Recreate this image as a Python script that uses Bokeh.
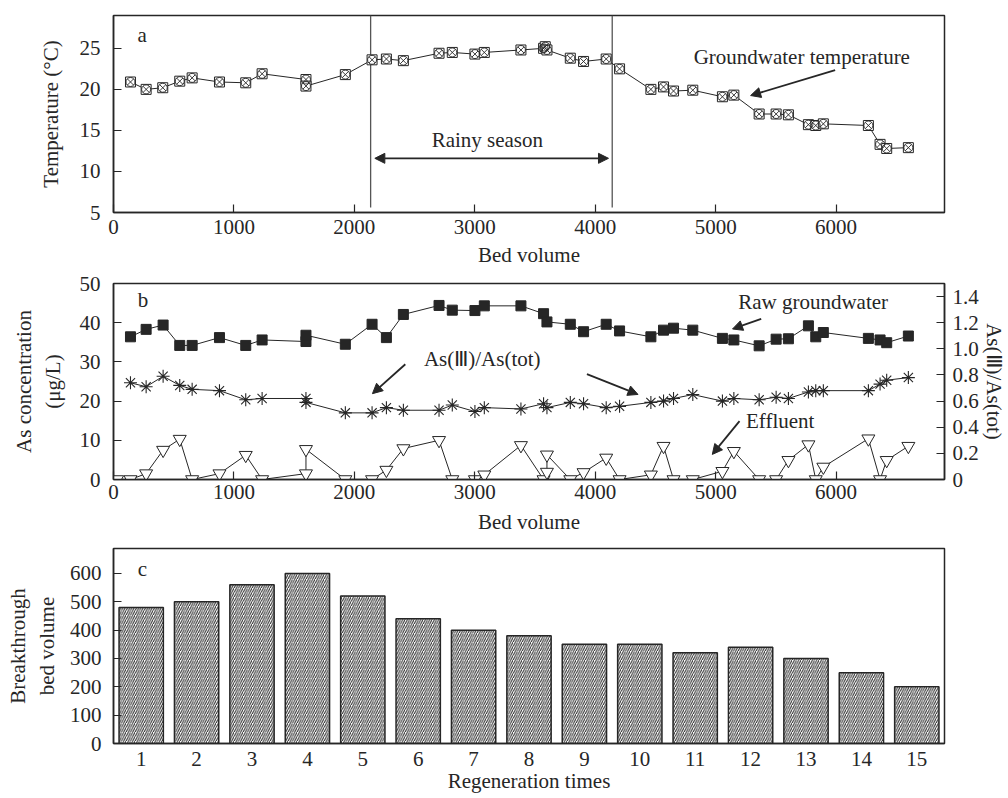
from bokeh.plotting import figure
from bokeh.layouts import column
from bokeh.models import (Range1d, LinearAxis, Label, Arrow, NormalHead,
                          FixedTicker, CustomJSTickFormatter)
from bokeh.embed import file_html
from bokeh.resources import INLINE

# ---------------- data ----------------
# (a) groundwater temperature
temp_bv = [141, 271, 409, 550, 653, 880, 1098, 1234, 1598, 1598, 1925, 2147, 2266, 2407,
           2703, 2813, 3001, 3079, 3383, 3571, 3585, 3599, 3793, 3903, 4091, 4202, 4462,
           4567, 4650, 4810, 5056, 5151, 5361, 5502, 5604, 5770, 5831, 5894, 6268, 6365,
           6420, 6600]
temp_c = [20.9, 20.0, 20.2, 21.0, 21.4, 20.9, 20.8, 21.9, 21.2, 20.4, 21.8, 23.6, 23.7, 23.5,
          24.4, 24.5, 24.3, 24.5, 24.8, 25.0, 25.2, 24.8, 23.8, 23.4, 23.7, 22.5, 20.0,
          20.3, 19.8, 19.9, 19.1, 19.3, 17.0, 17.0, 16.9, 15.7, 15.6, 15.8, 15.6, 13.3,
          12.8, 12.9]
rainy_start = 2135
rainy_end = 4141

# (b) arsenic
as_bv = [141, 271, 412, 550, 653, 880, 1098, 1234, 1598, 1598, 1925, 2147, 2266, 2407,
         2703, 2813, 3001, 3079, 3383, 3571, 3599, 3793, 3903, 4091, 4202, 4462, 4567,
         4650, 4810, 5056, 5151, 5361, 5502, 5604, 5770, 5831, 5894, 6268, 6365, 6420, 6600]
raw_as = [36.4, 38.3, 39.4, 34.2, 34.2, 36.2, 34.2, 35.6, 35.2, 36.8, 34.5, 39.6, 36.2, 42.1,
          44.4, 43.2, 43.1, 44.3, 44.3, 42.3, 40.2, 39.6, 37.7, 39.6, 37.9, 36.4, 38.1,
          38.6, 38.1, 36.0, 35.6, 34.1, 35.8, 35.9, 39.2, 36.4, 37.5, 36.0, 35.6, 34.9, 36.6]
as3_ratio = [0.74, 0.71, 0.79, 0.72, 0.69, 0.68, 0.61, 0.62, 0.62, 0.59, 0.51, 0.51, 0.55, 0.53,
             0.53, 0.57, 0.52, 0.55, 0.54, 0.58, 0.55, 0.59, 0.58, 0.55, 0.56, 0.59, 0.60,
             0.62, 0.65, 0.60, 0.62, 0.61, 0.63, 0.62, 0.67, 0.68, 0.68, 0.68, 0.73, 0.76, 0.78]
eff_bv = [30, 141, 271, 412, 550, 653, 880, 1098, 1234, 1598, 1598, 1925, 2147, 2266, 2407,
          2703, 2813, 3001, 3079, 3383, 3571, 3599, 3599, 3793, 3903, 4091, 4202, 4462, 4567,
          4650, 4810, 5056, 5151, 5361, 5502, 5604, 5770, 5831, 5894, 6268, 6365, 6420, 6600]
eff_as = [0, 0, 1.5, 7.5, 10.3, 0, 1.5, 6.2, 0, 1.5, 7.7, 0, 0, 2.4, 7.9,
          10.0, 0, 0, 1.2, 8.7, 0, 1.9, 6.3, 0, 1.8, 5.5, 0, 1.2, 8.5,
          0, 0, 2.1, 7.2, 0, 0, 4.9, 8.9, 0, 3.2, 10.4, 0, 4.9, 8.5]

# (c) breakthrough bed volume per regeneration
regen = list(range(1, 16))
breakthrough = [480, 500, 560, 600, 520, 440, 400, 380, 350, 350, 320, 340, 300, 250, 200]

bv_ticks = [0, 1000, 2000, 3000, 4000, 5000, 6000]
temp_ticks = [5, 10, 15, 20, 25]
as_ticks = [0, 10, 20, 30, 40, 50]
ratio_ticks = [0, 0.2, 0.4, 0.6, 0.8, 1.0, 1.2, 1.4]
bt_ticks = [0, 100, 200, 300, 400, 500, 600]

# ---------------- style ----------------
FONT = "Liberation Serif"
FS = "21px"
INK = "#262626"
W = 1008
LB = 113
RB = 63


def base(height, top, bottom, xr, yr):
    p = figure(width=W, height=height, x_range=xr, y_range=yr,
               output_backend="svg", toolbar_location=None,
               min_border_left=LB, min_border_right=RB,
               min_border_top=top, min_border_bottom=bottom)
    p.xgrid.visible = False
    p.ygrid.visible = False
    p.outline_line_color = INK
    p.outline_line_width = 1.5
    p.outline_line_alpha = 1
    p.background_fill_color = "white"
    p.border_fill_color = "white"
    return p


def style_axis(ax, text=None, tick_in=8, s1=6, s2=6):
    ax.axis_line_color = INK
    ax.axis_line_width = 1.5
    ax.major_tick_in = tick_in
    ax.major_tick_out = 0
    ax.major_tick_line_color = INK
    ax.major_tick_line_width = 1.2
    ax.minor_tick_line_color = None
    ax.major_label_text_font = FONT
    ax.major_label_text_font_size = FS
    ax.major_label_text_color = INK
    ax.major_label_standoff = s1
    ax.axis_label = text
    ax.axis_label_text_font = FONT
    ax.axis_label_text_font_size = FS
    ax.axis_label_text_font_style = "normal"
    ax.axis_label_text_color = INK
    ax.axis_label_standoff = s2


def label(p, x, y, text, **kw):
    p.add_layout(Label(x=x, y=y, text=text, text_font=FONT, text_font_size=FS,
                       text_color=INK, text_align="center", text_baseline="middle", **kw))


def arrow(p, x0, y0, x1, y1, both=False):
    head = lambda: NormalHead(size=10, fill_color=INK, line_color=INK, line_width=1)
    p.add_layout(Arrow(x_start=x0, y_start=y0, x_end=x1, y_end=y1,
                       end=head(), start=head() if both else None,
                       line_color=INK, line_width=1.8))


# ---------------- panel a ----------------
pa = base(271, 15, 59, Range1d(0, 6900), Range1d(5, 29))
style_axis(pa.xaxis[0], "Bed volume", s1=7, s2=6)
style_axis(pa.yaxis[0], "Temperature (°C)", s1=13, s2=14)
pa.xaxis[0].ticker = FixedTicker(ticks=bv_ticks)
pa.yaxis[0].ticker = FixedTicker(ticks=temp_ticks)

pa.segment(x0=[rainy_start, rainy_end], y0=[5.6, 5.6], x1=[rainy_start, rainy_end],
           y1=[29, 29], line_color="#555555", line_width=1.3)
pa.line(temp_bv, temp_c, line_color=INK, line_width=1)
pa.scatter(temp_bv, temp_c, marker="square", size=10, fill_color="white",
           line_color=INK, line_width=1)
pa.scatter(temp_bv, temp_c, marker="circle_x", size=9, fill_color=None,
           line_color=INK, line_width=0.9)

label(pa, 238, 26.6, "a")
label(pa, 3104, 13.8, "Rainy season")
arrow(pa, 2170, 11.6, 4110, 11.6, both=True)
label(pa, 5715, 23.9, "Groundwater temperature")
arrow(pa, 5992, 22.35, 5290, 19.25)

# ---------------- panel b ----------------
pb = base(272, 12, 64, Range1d(0, 6900), Range1d(0, 50))
pb.extra_y_ranges = {"ratio": Range1d(0, 1.5)}
style_axis(pb.xaxis[0], "Bed volume", s1=5, s2=8)
style_axis(pb.yaxis[0], "As concentration\n(μg/L)", s1=13, s2=12)
pb.xaxis[0].ticker = FixedTicker(ticks=bv_ticks)
pb.yaxis[0].ticker = FixedTicker(ticks=as_ticks)
rax = LinearAxis(y_range_name="ratio")
style_axis(rax, "As(Ⅲ)/As(tot)", s1=8, s2=0)
rax.ticker = FixedTicker(ticks=ratio_ticks)
rax.formatter = CustomJSTickFormatter(code="return tick == 0 ? '0' : tick.toFixed(1);")
pb.add_layout(rax, "right")

pb.line(as_bv, raw_as, line_color=INK, line_width=1)
pb.scatter(as_bv, raw_as, marker="square", size=10, fill_color=INK, line_color=INK)
pb.line(as_bv, as3_ratio, y_range_name="ratio", line_color=INK, line_width=1)
pb.scatter(as_bv, as3_ratio, y_range_name="ratio", marker="asterisk", size=13,
           line_color=INK, line_width=1.1)
pb.line(eff_bv, eff_as, line_color=INK, line_width=1)
pb.scatter(eff_bv, eff_as, marker="inverted_triangle", size=13, fill_color="white",
           line_color=INK, line_width=1)

label(pb, 245, 45.9, "b")
label(pb, 5809, 45.3, "Raw groundwater")
arrow(pb, 5378, 41.0, 5140, 38.4)
label(pb, 3062, 30.7, "As(Ⅲ)/As(tot)")
arrow(pb, 2423, 29.4, 2150, 21.9)
arrow(pb, 3931, 26.9, 4355, 21.7)
label(pb, 5536, 14.8, "Effluent")
arrow(pb, 5198, 14.9, 4972, 6.4)

# ---------------- panel c ----------------
pc = base(255, 5, 55, Range1d(0.5, 15.5), Range1d(0, 688))
style_axis(pc.xaxis[0], "Regeneration times", tick_in=0, s1=8, s2=0)
style_axis(pc.yaxis[0], "Breakthrough\nbed volume", s1=12, s2=8)
pc.xaxis[0].ticker = FixedTicker(ticks=regen)
pc.yaxis[0].ticker = FixedTicker(ticks=bt_ticks)
pc.vbar(x=regen, top=breakthrough, width=0.8, fill_color="white", line_color=INK,
        line_width=1.5, hatch_pattern="/", hatch_color=INK, hatch_scale=4.5,
        hatch_weight=1.0)
label(pc, 1.02, 615, "c")

layout = column(pa, pb, pc)
open("out.html", "w").write(file_html(layout, INLINE))
